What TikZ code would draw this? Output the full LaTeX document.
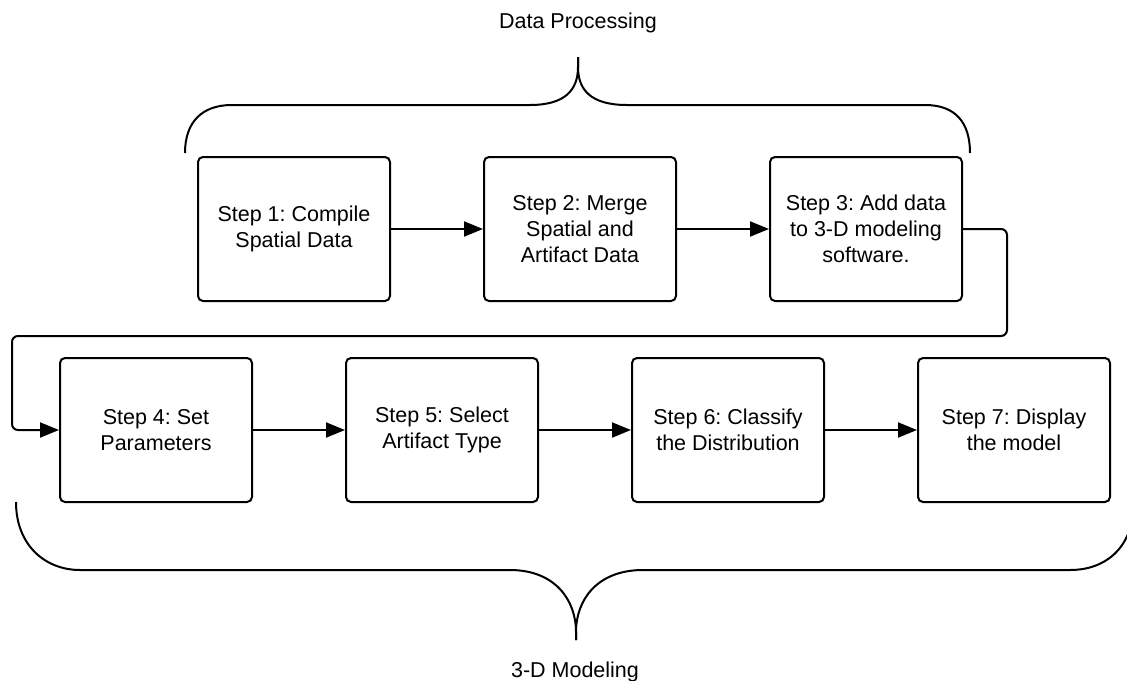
\documentclass[tikz,border=0pt]{standalone}
\usepackage{fontspec}
\setmainfont{Liberation Sans}
\usepackage{tikz}
\usetikzlibrary{positioning,arrows.meta}
\frenchspacing

\begin{document}
\begin{tikzpicture}[x=1pt, y=-1pt,
    every node/.style={font=\fontsize{21.5}{26}\selectfont},
    stepbox/.style={draw, line width=2pt, rounded corners=5pt, align=center,
                    minimum width=192pt, minimum height=144pt},
    flow/.style={line width=2pt, -{Triangle[length=19pt,width=15pt]}},
    brace/.style={line width=2pt}]

        \useasboundingbox (0,0) rectangle (1127,680);

        % Data processing row
        \node[stepbox] (s1) at (294,229) {Step 1: Compile\\Spatial Data};
        \node[stepbox, right=92pt of s1] (s2) {Step 2: Merge\\Spatial and\\Artifact Data};
        \node[stepbox, right=92pt of s2] (s3) {Step 3: Add data\\to 3-D modeling\\software.};

        % 3-D modeling row
        \node[stepbox] (s4) at (156,430) {Step 4: Set\\Parameters};
        \node[stepbox, right=92pt of s4] (s5) {Step 5: Select\\Artifact Type};
        \node[stepbox, right=92pt of s5] (s6) {Step 6: Classify\\the Distribution};
        \node[stepbox, right=92pt of s6] (s7) {Step 7: Display\\the model};

        \foreach \a/\b in {s1/s2, s2/s3, s4/s5, s5/s6, s6/s7}{
            \draw[flow] (\a) -- (\b);
        }

        \coordinate (c1) at (1007,336);
        \coordinate (c2) at (12,336);
        \draw[flow, rounded corners=6pt] (s3.east) -| (c1) -- (c2) |- (s4.west);

        % braces
        \draw[brace] (185,153) .. controls (185,122) and (202,105) .. (232,105) -- (530,105)
            .. controls (565,105) and (578,90) .. (578,67) -- (578,57);
        \draw[brace] (578,57) -- (578,67) .. controls (578,90) and (591,105) .. (627,105)
            -- (925,105) .. controls (955,105) and (970,122) .. (970,153);
        \node[anchor=base] (dp) at (578,28) {Data Processing};

        \draw[brace] (16,502) .. controls (16,545) and (45,570) .. (80,570) -- (510,570)
            .. controls (555,570) and (576,600) .. (576,632) -- (576,640);
        \draw[brace] (576,640) -- (576,632) .. controls (576,600) and (597,570) .. (643,570)
            -- (1070,570) .. controls (1108,570) and (1134,545) .. (1134,502);
        \node[anchor=base] (dm) at (575,677) {3-D Modeling};

    \end{tikzpicture}
\end{document}
